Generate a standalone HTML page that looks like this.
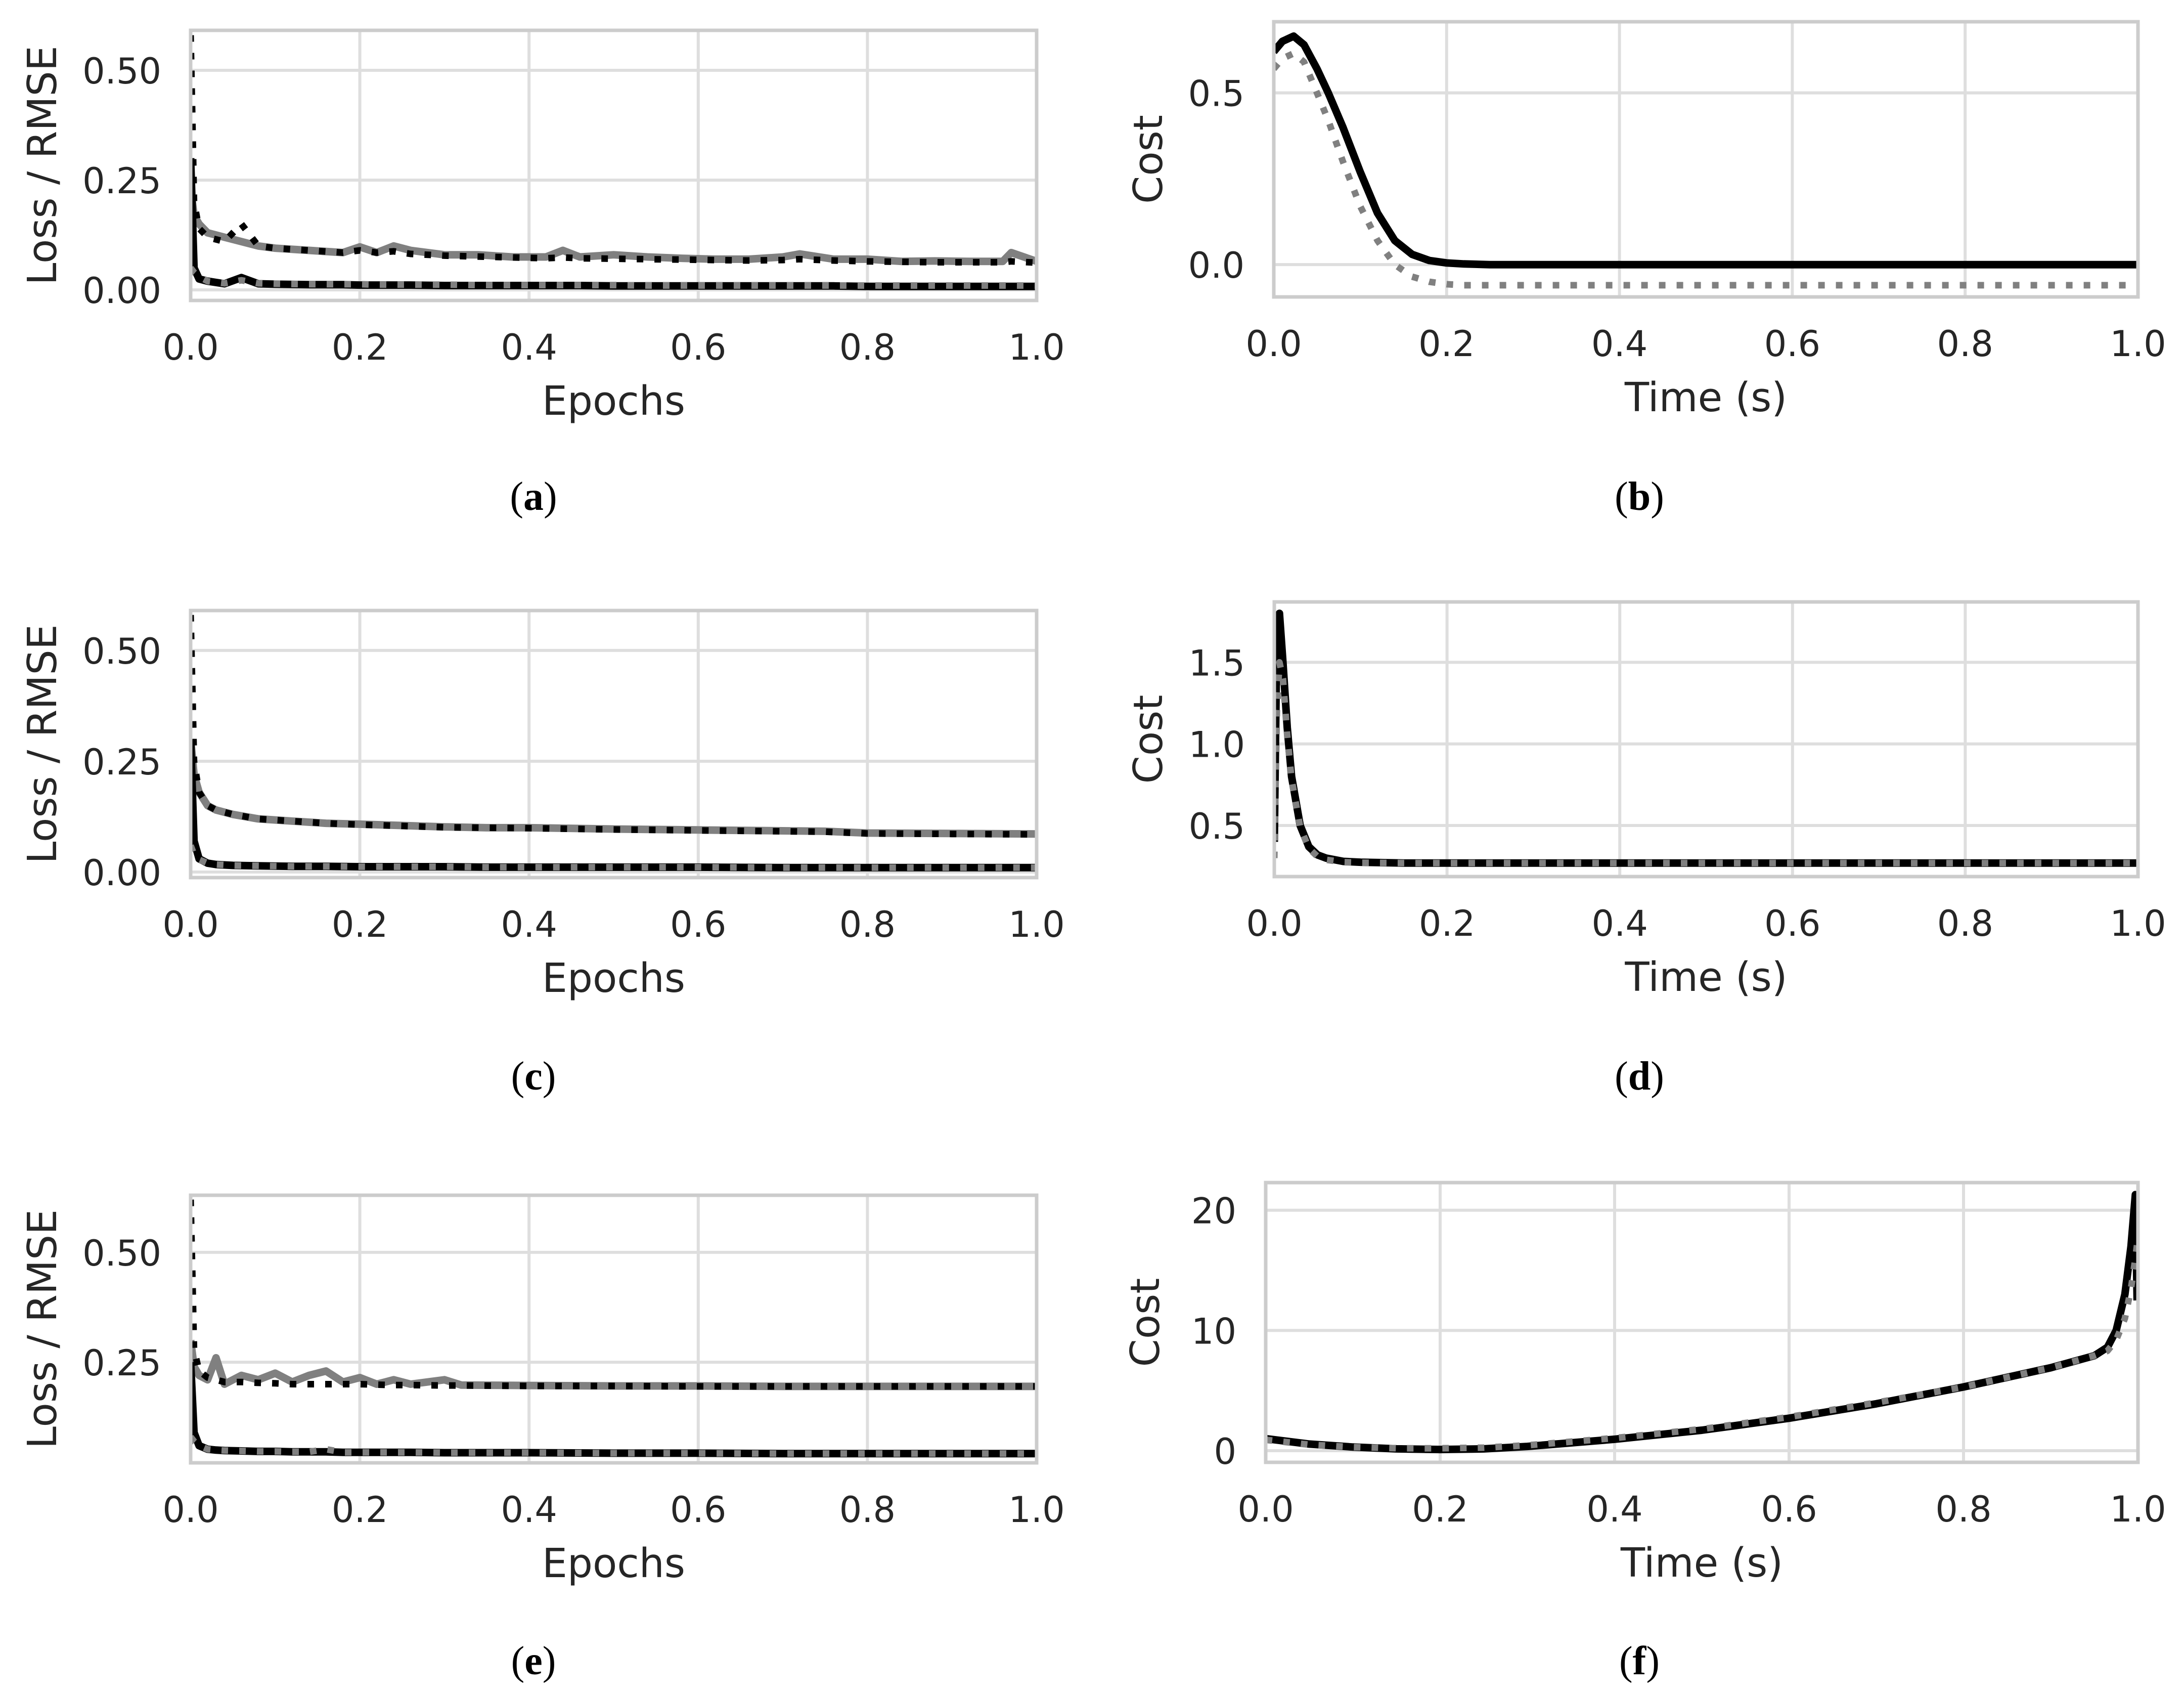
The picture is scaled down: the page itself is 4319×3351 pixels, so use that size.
<!DOCTYPE html>
<html><head><meta charset="utf-8">
<style>
html,body{margin:0;padding:0;background:#fff;}
svg{display:block;}
.tick{font-family:"DejaVu Sans","Liberation Sans",sans-serif;font-size:70px;fill:#262626;}
.alab{font-family:"DejaVu Sans","Liberation Sans",sans-serif;font-size:79px;fill:#262626;}
.cap{font-family:"Liberation Serif",serif;font-size:80px;fill:#000;}
</style></head>
<body>
<svg id="fig" width="4319" height="3351" viewBox="0 0 4319 3351" xmlns="http://www.w3.org/2000/svg"></svg>
<script>
// ---- Panel (a) data ----
const aX = [0,0.004,0.01,0.02,0.04,0.06,0.08,0.1,0.14,0.18,0.2,0.22,0.24,0.26,0.3,0.34,0.38,0.42,0.44,0.46,0.5,0.54,0.58,0.62,0.66,0.7,0.72,0.76,0.8,0.84,0.88,0.92,0.96,0.97,1.0];
const aTrainGray = [0.23,0.17,0.15,0.13,0.12,0.11,0.1,0.095,0.09,0.085,0.098,0.085,0.1,0.09,0.08,0.08,0.075,0.075,0.09,0.075,0.08,0.075,0.072,0.07,0.07,0.075,0.082,0.07,0.07,0.065,0.066,0.065,0.065,0.085,0.065];
const aTrainDot = [0.58,0.2,0.14,0.12,0.11,0.15,0.1,0.095,0.09,0.085,0.09,0.085,0.088,0.082,0.078,0.076,0.074,0.072,0.074,0.072,0.071,0.07,0.069,0.068,0.067,0.068,0.07,0.067,0.065,0.064,0.063,0.063,0.063,0.065,0.062];
const aValBlack = [0.3,0.05,0.025,0.02,0.014,0.028,0.014,0.013,0.012,0.012,0.011,0.011,0.011,0.011,0.01,0.01,0.01,0.01,0.01,0.01,0.009,0.009,0.009,0.009,0.009,0.009,0.009,0.009,0.008,0.008,0.008,0.008,0.008,0.008,0.008];
const aValGray = [0.05,0.04,0.03,0.02,0.015,0.022,0.015,0.014,0.013,0.013,0.013,0.012,0.012,0.012,0.012,0.011,0.011,0.011,0.011,0.011,0.011,0.01,0.01,0.01,0.01,0.01,0.01,0.01,0.01,0.01,0.01,0.01,0.01,0.01,0.01];
// ---- Panel (b) data ----
const bX = [0,0.01,0.023,0.035,0.05,0.063,0.08,0.1,0.12,0.14,0.16,0.18,0.2,0.22,0.25,0.3,0.5,1.0];
const bBlack = [0.62,0.65,0.665,0.64,0.57,0.5,0.4,0.27,0.15,0.07,0.03,0.012,0.005,0.002,0,0,0,0];
const bGray = [0.57,0.6,0.615,0.59,0.5,0.42,0.3,0.17,0.07,0.0,-0.035,-0.05,-0.057,-0.06,-0.06,-0.06,-0.06,-0.06];
// ---- Panel (c) data ----
const cX = [0,0.004,0.01,0.02,0.03,0.05,0.08,0.12,0.16,0.2,0.25,0.3,0.35,0.4,0.5,0.6,0.7,0.75,0.8,0.9,1.0];
const cTrainGray = [0.3,0.22,0.18,0.15,0.14,0.13,0.12,0.115,0.11,0.108,0.105,0.102,0.1,0.1,0.097,0.095,0.093,0.092,0.088,0.087,0.086];
const cTrainDot = [0.58,0.25,0.18,0.15,0.14,0.13,0.12,0.115,0.11,0.107,0.104,0.101,0.1,0.099,0.096,0.094,0.092,0.091,0.087,0.086,0.085];
const cValBlack = [0.3,0.07,0.03,0.02,0.017,0.015,0.014,0.013,0.013,0.012,0.012,0.012,0.011,0.011,0.011,0.011,0.01,0.01,0.01,0.01,0.01];
const cValGray = [0.06,0.04,0.028,0.02,0.017,0.015,0.014,0.013,0.013,0.012,0.012,0.012,0.011,0.011,0.011,0.011,0.01,0.01,0.01,0.01,0.01];
// ---- Panel (d) data ----
const dX = [0,0.003,0.006,0.01,0.015,0.02,0.03,0.04,0.05,0.06,0.08,0.1,0.15,0.3,1.0];
const dBlack = [0.4,1.7,1.8,1.5,1.1,0.8,0.5,0.37,0.32,0.3,0.28,0.275,0.27,0.27,0.27];
const dGray = [0.3,1.2,1.5,1.4,1.05,0.78,0.49,0.36,0.31,0.29,0.275,0.272,0.27,0.27,0.27];
// ---- Panel (e) data ----
const eX = [0,0.004,0.01,0.02,0.03,0.04,0.06,0.08,0.1,0.12,0.14,0.16,0.18,0.2,0.22,0.24,0.26,0.3,0.32,0.4,0.5,0.6,0.7,0.8,0.9,1.0];
const eTrainGray = [0.3,0.24,0.22,0.21,0.26,0.2,0.22,0.21,0.225,0.205,0.22,0.23,0.205,0.215,0.2,0.21,0.2,0.21,0.198,0.197,0.196,0.196,0.195,0.195,0.195,0.195];
const eTrainDot = [0.62,0.28,0.23,0.215,0.21,0.205,0.205,0.203,0.202,0.2,0.2,0.2,0.2,0.2,0.199,0.198,0.198,0.197,0.197,0.196,0.196,0.195,0.195,0.195,0.195,0.195];
const eValBlack = [0.25,0.09,0.06,0.052,0.05,0.049,0.048,0.047,0.047,0.046,0.046,0.046,0.045,0.045,0.045,0.045,0.045,0.044,0.044,0.044,0.043,0.043,0.042,0.042,0.042,0.042];
const eValGray = [0.08,0.07,0.06,0.052,0.05,0.049,0.048,0.047,0.047,0.046,0.046,0.052,0.045,0.045,0.045,0.045,0.045,0.044,0.044,0.044,0.043,0.043,0.042,0.042,0.042,0.042];
// ---- Panel (f) data ----
const fX = [0,0.05,0.1,0.15,0.2,0.25,0.3,0.4,0.5,0.6,0.7,0.8,0.9,0.95,0.965,0.975,0.985,0.992,0.997,0.999];
const fBlack = [1.0,0.55,0.3,0.15,0.1,0.15,0.35,0.95,1.7,2.7,3.9,5.3,6.9,7.9,8.6,10,13,17,21.3,12.5];
const fGray = [0.9,0.5,0.3,0.2,0.2,0.25,0.45,1.05,1.8,2.8,4.0,5.3,6.9,7.9,8.3,9.2,11,13.5,16,17.2];
// ---- Tick definitions ----
const xTicks = [0,0.2,0.4,0.6,0.8,1.0];
const xTickLabels = ["0.0","0.2","0.4","0.6","0.8","1.0"];
const lossTicks = [0,0.25,0.5];
const lossTickLabels = ["0.00","0.25","0.50"];
const eTicks = [0.25,0.5];
const eTickLabels = ["0.25","0.50"];
const bTicks = [0,0.5];
const bTickLabels = ["0.0","0.5"];
const dTicks = [0.5,1.0,1.5];
const dTickLabels = ["0.5","1.0","1.5"];
const fTicks = [0,10,20];
const fTickLabels = ["0","10","20"];

const NS = "http://www.w3.org/2000/svg";
const fig = document.getElementById('fig');
function mk(tag, attrs, parent){
  const e = document.createElementNS(NS, tag);
  for (const k in attrs) e.setAttribute(k, attrs[k]);
  (parent||fig).appendChild(e);
  return e;
}

function panel(p){
  const g = mk('g', {});
  
  
  const sx = v => p.x0 + (v - 0) / 1 * (p.x1 - p.x0);
  const sy = v => p.y1 - (v - p.ymin) / (p.ymax - p.ymin) * (p.y1 - p.y0);
  const cp = mk('clipPath', {id: 'clip-' + p.id}, g);
  mk('rect', {x: p.x0, y: p.y0, width: p.x1 - p.x0, height: p.y1 - p.y0}, cp);
  xTicks.forEach((t, i) => {
    if (t > 0 && t < 1) {
      const l = mk('line', {x1: sx(t), x2: sx(t), y1: p.y0, y2: p.y1, stroke: '#dedede', 'stroke-width': 6}, g);
      
      
    }
    const tx = mk('text', {x: sx(t), y: p.y1 + 117, 'text-anchor': 'middle', class: 'tick'}, g);
    
    
    tx.textContent = xTickLabels[i];
  });
  p.yt.forEach((t, i) => {
    const l = mk('line', {x1: p.x0, x2: p.x1, y1: sy(t), y2: sy(t), stroke: '#dedede', 'stroke-width': 6}, g);
    
    
    const tx = mk('text', {x: p.x0 - 58, y: sy(t) + 26, 'text-anchor': 'end', class: 'tick'}, g);
    
    
    tx.textContent = p.ytl[i];
  });
  const sg = mk('g', {'clip-path': 'url(#clip-' + p.id + ')'}, g);
  p.series.forEach(s => {
    const d = s.y.map((v, i) => (i ? 'L' : 'M') + sx(p.xs[i]).toFixed(1) + ',' + sy(v).toFixed(1)).join(' ');
    const path = mk('path', {d: d, fill: 'none', stroke: s.c, 'stroke-width': s.dot ? 13 : 15, 'stroke-linejoin': 'round'}, sg);
    if (s.dot) path.setAttribute('stroke-dasharray', '13 22');
    
    
  });
  const fr = mk('rect', {x: p.x0, y: p.y0, width: p.x1 - p.x0, height: p.y1 - p.y0, fill: 'none', stroke: '#cccccc', 'stroke-width': 7}, g);
  
  
  const xl = mk('text', {x: (p.x0 + p.x1) / 2, y: p.y1 + 226, 'text-anchor': 'middle', class: 'alab'}, g);
  
  
  xl.textContent = p.xlabel;
  const yc = (p.y0 + p.y1) / 2;
  const yl = mk('text', {x: p.ylx, y: yc, 'text-anchor': 'middle', class: 'alab', transform: 'rotate(-90 ' + p.ylx + ' ' + yc + ')', dy: '28'}, g);
  
  
  yl.textContent = p.ylabel;
  const cap = mk('text', {x: p.capx, y: p.capy, 'text-anchor': 'middle', class: 'cap'}, g);
  
  
  cap.innerHTML = '(<tspan font-weight="bold">' + p.id + '</tspan>)';
}

const BL = '#000', GR = '#808080';
panel({id:'a', x0:377, x1:2050, y0:60, y1:594, ymin:-0.024, ymax:0.591, xs:aX, yt:lossTicks, ytl:lossTickLabels,
  xlabel:'Epochs', ylabel:'Loss / RMSE', ylx:83, capx:1055, capy:1008,
  series:[{y:aTrainGray,c:GR,name:'train-loss-line'},{y:aTrainDot,c:BL,dot:1,name:'train-rmse-line'},
          {y:aValBlack,c:BL,name:'val-loss-line'},{y:aValGray,c:GR,dot:1,name:'val-rmse-line'}]});
panel({id:'b', x0:2519, x1:4228, y0:43, y1:587, ymin:-0.094, ymax:0.707, xs:bX, yt:bTicks, ytl:bTickLabels,
  xlabel:'Time (s)', ylabel:'Cost', ylx:2270, capx:3242, capy:1008,
  series:[{y:bBlack,c:BL,name:'true-cost-line'},{y:bGray,c:GR,dot:1,name:'predicted-cost-line'}]});
panel({id:'c', x0:377, x1:2050, y0:1207, y1:1735, ymin:-0.0125, ymax:0.59, xs:cX, yt:lossTicks, ytl:lossTickLabels,
  xlabel:'Epochs', ylabel:'Loss / RMSE', ylx:83, capx:1055, capy:2154,
  series:[{y:cTrainGray,c:GR,name:'train-loss-line'},{y:cTrainDot,c:BL,dot:1,name:'train-rmse-line'},
          {y:cValBlack,c:BL,name:'val-loss-line'},{y:cValGray,c:GR,dot:1,name:'val-rmse-line'}]});
panel({id:'d', x0:2520, x1:4228, y0:1190, y1:1733, ymin:0.187, ymax:1.87, xs:dX, yt:dTicks, ytl:dTickLabels,
  xlabel:'Time (s)', ylabel:'Cost', ylx:2270, capx:3242, capy:2154,
  series:[{y:dBlack,c:BL,name:'true-cost-line'},{y:dGray,c:GR,dot:1,name:'predicted-cost-line'}]});
panel({id:'e', x0:377, x1:2050, y0:2363, y1:2892, ymin:0.021, ymax:0.63, xs:eX, yt:eTicks, ytl:eTickLabels,
  xlabel:'Epochs', ylabel:'Loss / RMSE', ylx:83, capx:1055, capy:3310,
  series:[{y:eTrainGray,c:GR,name:'train-loss-line'},{y:eTrainDot,c:BL,dot:1,name:'train-rmse-line'},
          {y:eValBlack,c:BL,name:'val-loss-line'},{y:eValGray,c:GR,dot:1,name:'val-rmse-line'}]});
panel({id:'f', x0:2503, x1:4228, y0:2338, y1:2891, ymin:-0.97, ymax:22.3, xs:fX, yt:fTicks, ytl:fTickLabels,
  xlabel:'Time (s)', ylabel:'Cost', ylx:2264, capx:3242, capy:3310,
  series:[{y:fBlack,c:BL,name:'true-cost-line'},{y:fGray,c:GR,dot:1,name:'predicted-cost-line'}]});
</script>
</body></html>
